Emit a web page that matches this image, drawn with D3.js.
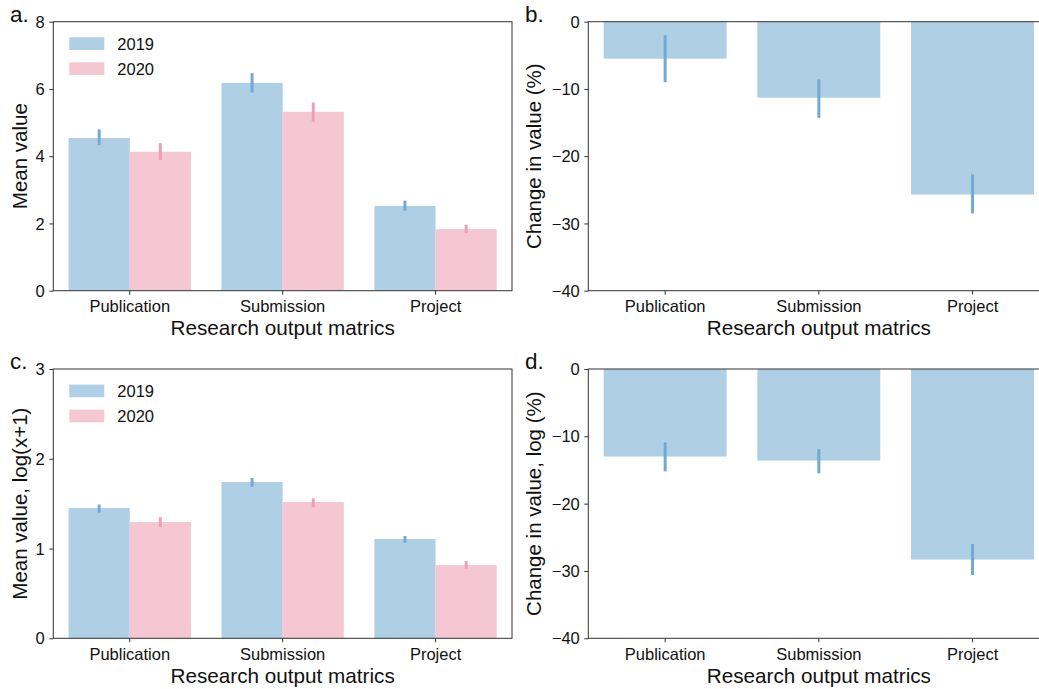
<!DOCTYPE html>
<html>
<head>
<meta charset="utf-8">
<script src="https://cdn.jsdelivr.net/npm/d3@7"></script>
<style>
  html, body { margin: 0; padding: 0; background: #fff; }
  svg { display: block; font-family: Helvetica, "Liberation Sans", Arial, sans-serif; }
</style>
</head>
<body>
<svg id="chart" width="1039" height="689"></svg>
<script>
// Categories and series
const categories = ["Publication", "Submission", "Project"];
const years = ["2019", "2020"];

// Panel a: mean value, with CI bounds
const meanValue2019 = [4.54, 6.18, 2.52];
const meanValue2020 = [4.13, 5.32, 1.83];
const meanLo2019 = [4.33, 5.89, 2.38];
const meanHi2019 = [4.80, 6.47, 2.68];
const meanLo2020 = [3.89, 5.02, 1.71];
const meanHi2020 = [4.39, 5.60, 1.96];

// Panel b: change in value (%)
const changeValue = [-5.5, -11.3, -25.7];
const changeLo = [-9.0, -14.3, -28.5];
const changeHi = [-2.0, -8.6, -22.7];

// Panel c: mean value, log(x+1)
const logValue2019 = [1.451, 1.741, 1.106];
const logValue2020 = [1.295, 1.518, 0.816];
const logLo2019 = [1.40, 1.69, 1.065];
const logHi2019 = [1.49, 1.785, 1.14];
const logLo2020 = [1.24, 1.46, 0.775];
const logHi2020 = [1.35, 1.56, 0.86];

// Panel d: change in log value (%)
const logChangeValue = [-13.0, -13.6, -28.3];
const logChangeLo = [-15.2, -15.5, -30.6];
const logChangeHi = [-10.9, -11.9, -26.0];

// Tick values
const ticksA = [0, 2, 4, 6, 8];
const ticksB = [0, -10, -20, -30, -40];
const ticksC = [0, 1, 2, 3];
const ticksD = [0, -10, -20, -30, -40];

const barColor = { "2019": "#aecfe4", "2020": "#f4c7d2" };
const errColor = { "2019": "#72a9d7", "2020": "#eda0b5" };
const spineColor = "#333";
const textColor = "#111";

const svg = d3.select("#chart");

// clip everything to the canvas (the right-hand panels run past its edge)
svg.append("clipPath").attr("id", "canvas-clip")
  .append("rect").attr("x", 0).attr("y", 0).attr("width", 1039).attr("height", 689);

function drawPanel(opts) {
  const { left, right, top, bottom, domain, ticks, label, ylabel, ylabelX, series, showLegend } = opts;
  const g = svg.append("g").attr("clip-path", "url(#canvas-clip)");

  const x0 = d3.scaleBand().domain(categories).range([left, right]).padding(0);
  const y = d3.scaleLinear().domain(domain).range([bottom, top]);
  const bw = x0.bandwidth();
  const keys = series.map(s => s.key);
  const x1 = d3.scaleBand().domain(keys).range([0.1 * bw, 0.9 * bw]).padding(0);

  // bars
  series.forEach(s => {
    const zero = y(0);
    g.selectAll(null)
      .data(categories.map((c, i) => ({ c, v: s.values[i] })))
      .join("rect")
      .attr("x", d => x0(d.c) + x1(s.key))
      .attr("width", x1.bandwidth())
      .attr("y", d => Math.min(y(d.v), zero))
      .attr("height", d => Math.abs(y(d.v) - zero))
      .attr("fill", s.color);
  });
  // error bars
  series.forEach(s => {
    g.selectAll(null)
      .data(categories.map((c, i) => ({ c, lo: s.lo[i], hi: s.hi[i] })))
      .join("line")
      .attr("x1", d => x0(d.c) + x1(s.key) + x1.bandwidth() / 2)
      .attr("x2", d => x0(d.c) + x1(s.key) + x1.bandwidth() / 2)
      .attr("y1", d => y(d.lo))
      .attr("y2", d => y(d.hi))
      .attr("stroke", s.err)
      .attr("stroke-width", 3);
  });

  // axes
  const yAxis = d3.axisLeft(y).tickValues(ticks).tickSize(4).tickPadding(4.5)
    .tickFormat(d => d < 0 ? "\u2212" + Math.abs(d) : String(d));
  const ya = g.append("g").attr("transform", `translate(${left},0)`).call(yAxis);
  const xAxis = d3.axisBottom(x0).tickSize(4).tickPadding(6);
  const xa = g.append("g").attr("transform", `translate(0,${bottom})`).call(xAxis);
  [ya, xa].forEach(a => {
    a.select(".domain").remove();
    a.selectAll(".tick line").attr("stroke", spineColor).attr("stroke-width", 1);
    a.selectAll(".tick text").attr("fill", textColor).attr("font-size", 16.5)
      .attr("font-family", "Helvetica, 'Liberation Sans', Arial, sans-serif");
  });
  ya.selectAll(".tick text").attr("dy", "0.34em");

  // frame
  g.append("rect")
    .attr("x", left).attr("y", top)
    .attr("width", right - left).attr("height", bottom - top)
    .attr("fill", "none").attr("stroke", spineColor).attr("stroke-width", 1);

  // axis titles
  svg.append("text")
    .attr("x", (left + right) / 2)
    .attr("y", bottom + 44.3)
    .attr("text-anchor", "middle")
    .attr("font-size", 20.7)
    .attr("fill", textColor)
    .text("Research output matrics");
  svg.append("text")
    .attr("transform", `translate(${ylabelX},${(top + bottom) / 2}) rotate(-90)`)
    .attr("text-anchor", "middle")
    .attr("font-size", 20.5)
    .attr("fill", textColor)
    .text(ylabel);

  // panel label
  svg.append("text")
    .attr("x", opts.labelX).attr("y", top)
    .attr("font-size", 22.5)
    .attr("fill", textColor)
    .text(label + ".");

  // legend
  if (showLegend) {
    series.forEach((s, i) => {
      const ly = top + 15.6 + i * 25;
      svg.append("rect")
        .attr("x", left + 16).attr("y", ly)
        .attr("width", 35).attr("height", 12.7)
        .attr("fill", s.color);
      svg.append("text")
        .attr("x", left + 64).attr("y", ly + 6.4)
        .attr("dy", "0.36em")
        .attr("font-size", 16.5)
        .attr("fill", textColor)
        .text(s.key);
    });
  }
}

const leftX = 53.3, rightX = 512;
const leftX2 = 588.3, rightX2 = 588.3 + 3 * 153.7;

drawPanel({
  left: leftX, right: rightX, top: 21.7, bottom: 290.7,
  domain: [0, 8], ticks: ticksA, label: "a", labelX: 10,
  ylabel: "Mean value", ylabelX: 26.5, showLegend: true,
  series: [
    { key: years[0], values: meanValue2019, lo: meanLo2019, hi: meanHi2019, color: barColor["2019"], err: errColor["2019"] },
    { key: years[1], values: meanValue2020, lo: meanLo2020, hi: meanHi2020, color: barColor["2020"], err: errColor["2020"] }
  ]
});

drawPanel({
  left: leftX2, right: rightX2, top: 21.7, bottom: 290.7,
  domain: [-40, 0], ticks: ticksB, label: "b", labelX: 525,
  ylabel: "Change in value (%)", ylabelX: 540.5, showLegend: false,
  series: [
    { key: "change", values: changeValue, lo: changeLo, hi: changeHi, color: barColor["2019"], err: errColor["2019"] }
  ]
});

drawPanel({
  left: leftX, right: rightX, top: 369, bottom: 638.3,
  domain: [0, 3], ticks: ticksC, label: "c", labelX: 10,
  ylabel: "Mean value, log(x+1)", ylabelX: 26.5, showLegend: true,
  series: [
    { key: years[0], values: logValue2019, lo: logLo2019, hi: logHi2019, color: barColor["2019"], err: errColor["2019"] },
    { key: years[1], values: logValue2020, lo: logLo2020, hi: logHi2020, color: barColor["2020"], err: errColor["2020"] }
  ]
});

drawPanel({
  left: leftX2, right: rightX2, top: 369, bottom: 638.3,
  domain: [-40, 0], ticks: ticksD, label: "d", labelX: 525,
  ylabel: "Change in value, log (%)", ylabelX: 540.5, showLegend: false,
  series: [
    { key: "change", values: logChangeValue, lo: logChangeLo, hi: logChangeHi, color: barColor["2019"], err: errColor["2019"] }
  ]
});
</script>
</body>
</html>
